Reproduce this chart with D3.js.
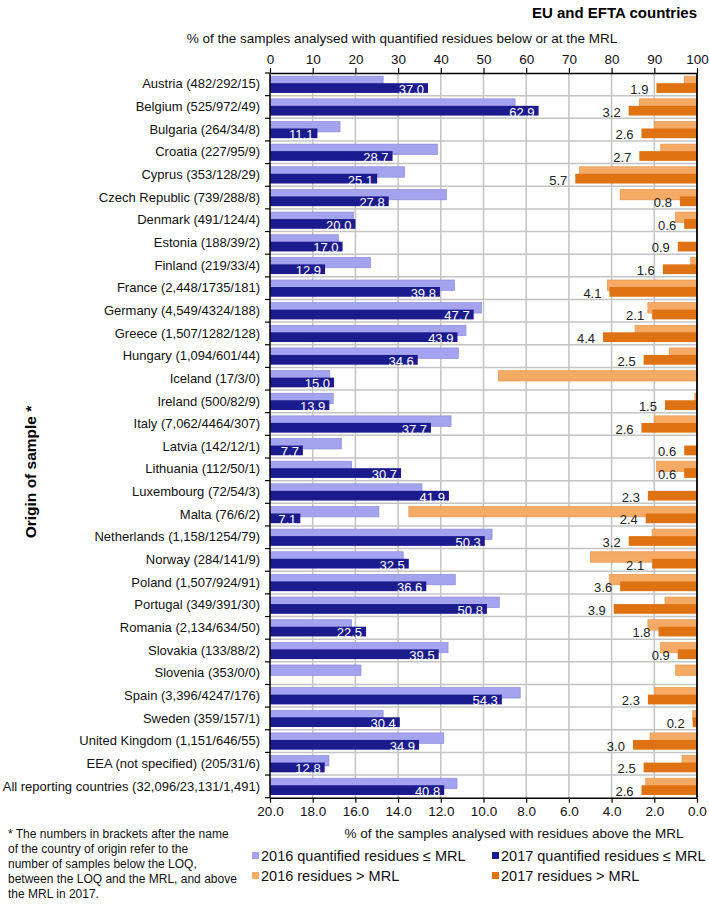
<!DOCTYPE html>
<html>
<head>
<meta charset="utf-8">
<script src="https://cdn.jsdelivr.net/npm/d3@7"></script>
<style>
  body { margin: 0; background: #fff; }
  svg text { font-family: "Liberation Sans", Arial, sans-serif; }
</style>
</head>
<body>
<div class="d3-chart"></div>
<script>
const countries = [
  "Austria (482/292/15)", "Belgium (525/972/49)", "Bulgaria (264/34/8)", "Croatia (227/95/9)",
  "Cyprus (353/128/29)", "Czech Republic (739/288/8)", "Denmark (491/124/4)", "Estonia (188/39/2)",
  "Finland (219/33/4)", "France (2,448/1735/181)", "Germany (4,549/4324/188)", "Greece (1,507/1282/128)",
  "Hungary (1,094/601/44)", "Iceland (17/3/0)", "Ireland (500/82/9)", "Italy (7,062/4464/307)",
  "Latvia (142/12/1)", "Lithuania (112/50/1)", "Luxembourg (72/54/3)", "Malta (76/6/2)",
  "Netherlands (1,158/1254/79)", "Norway (284/141/9)", "Poland (1,507/924/91)", "Portugal (349/391/30)",
  "Romania (2,134/634/50)", "Slovakia (133/88/2)", "Slovenia (353/0/0)", "Spain (3,396/4247/176)",
  "Sweden (359/157/1)", "United Kingdom (1,151/646/55)", "EEA (not specified) (205/31/6)",
  "All reporting countries (32,096/23,131/1,491)"
];
// % quantified residues <= MRL
const quant2016 = [26.5, 57.4, 16.4, 39.2, 31.5, 41.3, 19.6, 16.0, 23.5, 43.2, 49.5, 45.9, 44.1, 14.0, 14.8, 42.4,
  16.7, 19.1, 35.6, 25.5, 52.0, 31.2, 43.4, 53.7, 19.1, 41.7, 21.3, 58.6, 26.5, 40.7, 13.8, 43.8];
const quant2017 = [37.0, 62.9, 11.1, 28.7, 25.1, 27.8, 20.0, 17.0, 12.9, 39.8, 47.7, 43.9, 34.6, 15.0, 13.9, 37.7,
  7.7, 30.7, 41.9, 7.1, 50.3, 32.5, 36.6, 50.8, 22.5, 39.5, null, 54.3, 30.4, 34.9, 12.8, 40.8];
// % residues > MRL
const above2016 = [0.6, 2.7, 2.0, 1.7, 5.5, 3.6, 1.0, 0, 0.3, 4.2, 2.3, 2.9, 1.3, 9.3, 0.1, 2.0,
  0, 1.9, 0, 13.5, 2.1, 5.0, 4.1, 1.5, 2.3, 1.7, 1.0, 2.0, 0.2, 2.2, 0.7, 2.4];
const above2017 = [1.9, 3.2, 2.6, 2.7, 5.7, 0.8, 0.6, 0.9, 1.6, 4.1, 2.1, 4.4, 2.5, null, 1.5, 2.6,
  0.6, 0.6, 2.3, 2.4, 3.2, 2.1, 3.6, 3.9, 1.8, 0.9, null, 2.3, 0.2, 3.0, 2.5, 2.6];

const topTicks = [0, 10, 20, 30, 40, 50, 60, 70, 80, 90, 100];
const bottomTicks = [20, 18, 16, 14, 12, 10, 8, 6, 4, 2, 0];
const legendItems = ["2016 quantified residues \u2264 MRL", "2017 quantified residues \u2264 MRL",
  "2016 residues > MRL", "2017 residues > MRL"];
const footnote = [
  "* The numbers in brackets after the name",
  "of the country of origin refer to the",
  "number of samples below the LOQ,",
  "between the LOQ and the MRL, and above",
  "the MRL in 2017."
];

const colors = {
  q16: "#a3a3f0", q17: "#1b1b8e", a16: "#f5aa66", a17: "#df7212"
};

const width = 709, height = 904;
const plot = {left: 270, right: 697, top: 73, bottom: 797.7};

const svg = d3.select(".d3-chart")
  .append("svg")
  .attr("width", width)
  .attr("height", height);

const xTop = d3.scaleLinear().domain([0, 100]).range([plot.left, plot.right]);
const xBot = d3.scaleLinear().domain([20, 0]).range([plot.left, plot.right]);
const y = d3.scaleBand().domain(countries).range([plot.top, plot.bottom]);
const rh = y.bandwidth();

const rows = countries.map((c, i) => ({
  name: c, q16: quant2016[i], q17: quant2017[i], a16: above2016[i], a17: above2017[i]
}));

// grid
svg.append("g")
  .selectAll("line")
  .data(topTicks.slice(1, -1))
  .join("line")
  .attr("x1", d => xTop(d)).attr("x2", d => xTop(d))
  .attr("y1", plot.top).attr("y2", plot.bottom)
  .attr("stroke", "#c4c4c4").attr("stroke-width", 1.5);
svg.append("g")
  .selectAll("line")
  .data(countries.slice(1))
  .join("line")
  .attr("x1", plot.left).attr("x2", plot.right)
  .attr("y1", d => y(d)).attr("y2", d => y(d))
  .attr("stroke", "#c4c4c4").attr("stroke-width", 1.5);

// bars
const lightY = d => y(d.name) + rh * 0.14;
const darkY = d => y(d.name) + rh * 0.45;
const lightH = rh * 0.46, darkH = rh * 0.43;

svg.append("g").selectAll("rect")
  .data(rows.filter(d => d.q16))
  .join("rect")
  .attr("x", xTop(0)).attr("y", lightY)
  .attr("width", d => xTop(d.q16) - xTop(0)).attr("height", lightH)
  .attr("fill", colors.q16).attr("stroke", "#8c8cd8").attr("stroke-width", 0.7);

svg.append("g").selectAll("rect")
  .data(rows.filter(d => d.a16))
  .join("rect")
  .attr("x", d => xBot(d.a16)).attr("y", lightY)
  .attr("width", d => xBot(0) - xBot(d.a16)).attr("height", lightH)
  .attr("fill", colors.a16).attr("stroke", "#e59850").attr("stroke-width", 0.7);

svg.append("g").selectAll("rect")
  .data(rows.filter(d => d.q17))
  .join("rect")
  .attr("x", xTop(0)).attr("y", darkY)
  .attr("width", d => xTop(d.q17) - xTop(0)).attr("height", darkH)
  .attr("fill", colors.q17);

svg.append("g").selectAll("rect")
  .data(rows.filter(d => d.a17))
  .join("rect")
  .attr("x", d => xBot(d.a17)).attr("y", darkY)
  .attr("width", d => xBot(0) - xBot(d.a17)).attr("height", darkH)
  .attr("fill", colors.a17);

// value labels
svg.append("g").selectAll("text")
  .data(rows.filter(d => d.q17))
  .join("text")
  .attr("x", d => xTop(d.q17) - 4)
  .attr("y", d => darkY(d) + darkH + 1)
  .attr("text-anchor", "end")
  .attr("font-size", 13)
  .attr("fill", "#fff")
  .text(d => d.q17.toFixed(1));

svg.append("g").selectAll("text")
  .data(rows.filter(d => d.a17))
  .join("text")
  .attr("x", d => xBot(d.a17) - 8)
  .attr("y", d => darkY(d) + darkH + 1)
  .attr("text-anchor", "end")
  .attr("font-size", 13)
  .attr("fill", "#222")
  .text(d => d.a17.toFixed(1));

// axes
const topAxis = svg.append("g")
  .attr("transform", `translate(0, ${plot.top})`)
  .call(d3.axisTop(xTop).tickValues(topTicks).tickSize(5).tickSizeOuter(0).tickPadding(4));
const bottomAxis = svg.append("g")
  .attr("transform", `translate(0, ${plot.bottom})`)
  .call(d3.axisBottom(xBot).tickValues(bottomTicks).tickFormat(d3.format(".1f")).tickSize(5).tickSizeOuter(0).tickPadding(4));
[topAxis, bottomAxis].forEach(a => {
  a.select(".domain").attr("stroke", "#000").attr("stroke-width", 1.5);
  a.selectAll(".tick line").attr("stroke", "#000").attr("stroke-width", 1.2);
  a.selectAll(".tick text").attr("font-size", 13.5).attr("fill", "#111")
    .style("font-family", '"Liberation Sans", Arial, sans-serif');
});

// left axis: labels at row centres, ticks at row boundaries
const leftAxis = svg.append("g")
  .attr("transform", `translate(${plot.left}, 0)`)
  .call(d3.axisLeft(y).tickSize(0).tickPadding(10));
leftAxis.select(".domain").remove();
leftAxis.selectAll(".tick text").attr("font-size", 13).attr("fill", "#111")
  .style("font-family", '"Liberation Sans", Arial, sans-serif');
svg.append("g").selectAll("line")
  .data(countries.map(c => y(c)).concat([plot.bottom]))
  .join("line")
  .attr("x1", plot.left - 5).attr("x2", plot.left)
  .attr("y1", d => d).attr("y2", d => d)
  .attr("stroke", "#000").attr("stroke-width", 1.2);
svg.append("line")
  .attr("x1", plot.left).attr("x2", plot.left)
  .attr("y1", plot.top).attr("y2", plot.bottom)
  .attr("stroke", "#000").attr("stroke-width", 1.5);
svg.append("line")
  .attr("x1", plot.right).attr("x2", plot.right)
  .attr("y1", plot.top).attr("y2", plot.bottom)
  .attr("stroke", "#000").attr("stroke-width", 1.8);

// titles
svg.append("text")
  .attr("x", 697).attr("y", 18)
  .attr("text-anchor", "end")
  .attr("font-size", 15).attr("font-weight", "bold")
  .text("EU and EFTA countries");
svg.append("text")
  .attr("x", 402).attr("y", 43)
  .attr("text-anchor", "middle")
  .attr("font-size", 13.5).attr("fill", "#111")
  .text("% of the samples analysed with quantified residues below or at the MRL");
svg.append("text")
  .attr("x", 514).attr("y", 838)
  .attr("text-anchor", "middle")
  .attr("font-size", 13.5).attr("fill", "#111")
  .text("% of the samples analysed with residues above the MRL");
svg.append("text")
  .attr("transform", "translate(36, 472) rotate(-90)")
  .attr("text-anchor", "middle")
  .attr("font-size", 15.5).attr("font-weight", "bold")
  .text("Origin of sample *");

// footnote
svg.append("g").selectAll("text")
  .data(footnote)
  .join("text")
  .attr("x", 8)
  .attr("y", (d, i) => 838 + i * 15)
  .attr("font-size", 12).attr("fill", "#111")
  .text(d => d);

// legend
const legendColors = [colors.q16, colors.q17, colors.a16, colors.a17];
const legend = svg.append("g").selectAll("g")
  .data(legendItems)
  .join("g")
  .attr("transform", (d, i) => `translate(${i % 2 === 0 ? 252 : 492}, ${861 + Math.floor(i / 2) * 20})`);
legend.append("rect")
  .attr("x", 0).attr("y", -9).attr("width", 7).attr("height", 7)
  .attr("fill", (d, i) => legendColors[i]);
legend.append("text")
  .attr("x", 9).attr("y", 0)
  .attr("font-size", 14.5).attr("fill", "#111")
  .text(d => d);
</script>
</body>
</html>
